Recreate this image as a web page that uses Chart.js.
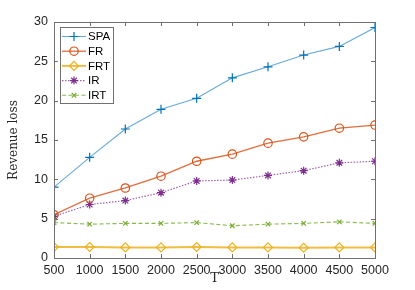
<!DOCTYPE html>
<html><head><meta charset="utf-8">
<script src="https://cdn.jsdelivr.net/npm/chart.js@4/dist/chart.umd.min.js"></script>
<style>html,body{margin:0;padding:0;background:#fff}#w{width:415px;height:290px}</style>
</head><body><div id="w"><canvas id="c" width="415" height="290"></canvas></div>
<script>
const T = [500,1000,1500,2000,2500,3000,3500,4000,4500,5000];
const SPA = [9.0,12.8,16.4,18.9,20.3,22.9,24.3,25.8,26.9,29.3];
const FR  = [5.5,7.6,8.9,10.4,12.3,13.2,14.6,15.4,16.5,16.9];
const FRT = [1.4,1.4,1.35,1.35,1.4,1.35,1.35,1.3,1.35,1.35];
const IR  = [5.3,6.8,7.3,8.3,9.8,9.9,10.5,11.1,12.1,12.3];
const IRT = [4.5,4.3,4.4,4.4,4.5,4.1,4.3,4.4,4.6,4.4];
const xTicks = [500,1000,1500,2000,2500,3000,3500,4000,4500,5000];
const yTicks = [0,5,10,15,20,25,30];

const pts = arr => arr.map((v,i)=>({x:T[i],y:v}));
function ds(label, data, col, lineCol, style, r, width, dash){
  return {label, data: pts(data), borderColor: lineCol, backgroundColor:'rgba(0,0,0,0)',
    pointStyle: style, pointRadius: r, pointBorderColor: col, pointBackgroundColor:'rgba(0,0,0,0)',
    pointBorderWidth: 1.2, borderWidth: width, borderDash: dash, tension: 0, fill:false};
}
const datasets = [
  ds('SPA', SPA, '#0072BD', 'rgba(0,114,189,0.6)', 'cross', 4.5, 1.1, []),
  ds('FR', FR, '#D95319', 'rgba(217,83,25,0.85)', 'circle', 4.2, 1.3, []),
  ds('FRT', FRT, '#EDB120', 'rgba(237,177,32,0.85)', 'rectRot', 4.5, 2, []),
  ds('IR', IR, '#7E2F8E', 'rgba(126,47,142,0.75)', 'star', 4, 1.2, [1.5,1.5]),
  ds('IRT', IRT, '#77AC30', 'rgba(119,172,48,0.85)', 'crossRot', 3.2, 1.1, [4,2.5])
];

const deco = {
  id:'deco',
  afterDraw(chart){
    const {ctx, chartArea:a, scales:{x,y}} = chart;
    ctx.save();
    ctx.strokeStyle = '#707070'; ctx.lineWidth = 1;
    ctx.strokeRect(Math.round(a.left)+0.5, Math.round(a.top)+0.5, Math.round(a.right-a.left), Math.round(a.bottom-a.top));
    ctx.beginPath();
    const tl = 4;
    xTicks.forEach(v=>{ const px = Math.round(x.getPixelForValue(v))+0.5;
      ctx.moveTo(px,a.bottom); ctx.lineTo(px,a.bottom-tl);
      ctx.moveTo(px,a.top); ctx.lineTo(px,a.top+tl); });
    yTicks.forEach(v=>{ const py = Math.round(y.getPixelForValue(v))+0.5;
      ctx.moveTo(a.left,py); ctx.lineTo(a.left+tl,py);
      ctx.moveTo(a.right,py); ctx.lineTo(a.right-tl,py); });
    ctx.stroke();
    // axis titles
    ctx.fillStyle = '#262626';
    ctx.font = '13px "DejaVu Serif", "Liberation Serif", serif';
    ctx.textAlign = 'center'; ctx.textBaseline = 'middle';
    ctx.fillText('T', (a.left+a.right)/2, 279);
    ctx.translate(14, (a.top+a.bottom)/2); ctx.rotate(-Math.PI/2);
    ctx.font = '12px "DejaVu Serif", "Liberation Serif", serif';
    ctx.fillText('Revenue loss', 0, 0);
    ctx.restore();
    // legend
    ctx.save();
    const lx = 60.5, ly = 27.5, lw = 53, lh = 76;
    ctx.fillStyle = '#fff'; ctx.fillRect(lx, ly, lw, lh);
    ctx.strokeStyle = '#707070'; ctx.lineWidth = 1; ctx.strokeRect(lx, ly, lw, lh);
    ctx.font = '11.5px "Liberation Sans", Arial, sans-serif';
    ctx.textAlign = 'left'; ctx.textBaseline = 'middle';
    chart.data.datasets.forEach((d,i)=>{
      const yy = 36.5 + i*14.7;
      ctx.strokeStyle = d.borderColor; ctx.lineWidth = d.borderWidth; ctx.setLineDash(d.borderDash);
      ctx.beginPath(); ctx.moveTo(62, yy); ctx.lineTo(86, yy); ctx.stroke();
      ctx.setLineDash([]);
      ctx.lineWidth = d.pointBorderWidth; ctx.strokeStyle = d.pointBorderColor;
      ctx.fillStyle = 'rgba(0,0,0,0)';
      Chart.helpers.drawPoint(ctx, {pointStyle:d.pointStyle, radius:d.pointRadius, rotation:0, borderWidth:d.pointBorderWidth}, 74, yy);
      ctx.fillStyle = '#000'; ctx.fillText(d.label, 88, yy+0.5);
    });
    ctx.restore();
  }
};

new Chart(document.getElementById('c'), {
  type:'line',
  data:{datasets},
  options:{
    responsive:false, animation:false, devicePixelRatio:1,
    layout:{padding:{top:22, right:40, left:0, bottom:0}},
    plugins:{legend:{display:false}, tooltip:{enabled:false}},
    scales:{
      x:{type:'linear', min:500, max:5000,
        afterBuildTicks: s=>{ s.ticks = xTicks.map(v=>({value:v})); },
        afterFit: s=>{ s.height = 32; },
        grid:{display:false, drawTicks:false}, border:{display:false},
        ticks:{color:'#262626', font:{family:'"Liberation Sans", Arial, sans-serif', size:12.5}, padding:5, maxRotation:0, autoSkip:false, callback: v => String(v)}},
      y:{min:0, max:30,
        afterBuildTicks: s=>{ s.ticks = yTicks.map(v=>({value:v})); },
        afterFit: s=>{ s.width = 54; },
        grid:{display:false, drawTicks:false}, border:{display:false},
        ticks:{color:'#262626', font:{family:'"Liberation Sans", Arial, sans-serif', size:12.5}, padding:6, callback: v => String(v)}}
    }
  },
  plugins:[deco]
});
</script></body></html>
